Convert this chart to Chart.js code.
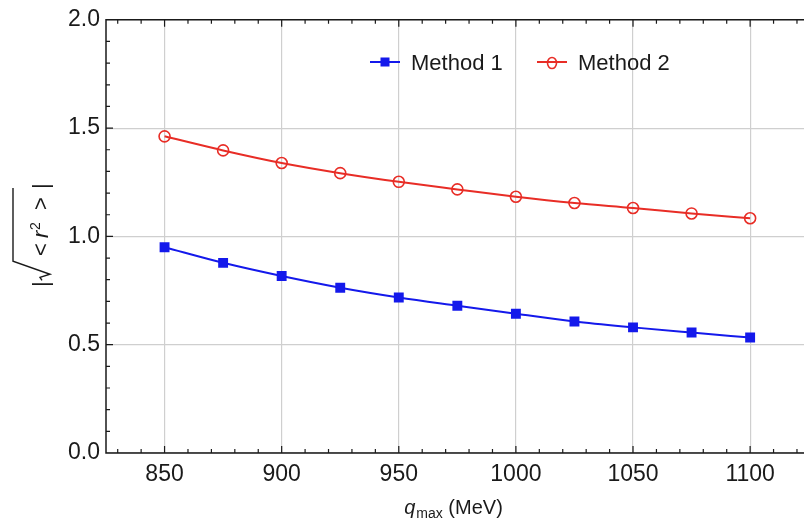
<!DOCTYPE html>
<html>
<head>
<meta charset="utf-8">
<script src="https://cdn.jsdelivr.net/npm/chart.js@4"></script>
<style>
  html, body { margin: 0; padding: 0; background: #fff; overflow: hidden; }
  #wrap { width: 804px; height: 528px; }
</style>
</head>
<body>
<div id="wrap"><canvas id="radius"></canvas></div>
<script>
(function() {
  // q_max values (MeV)
  const qmax = [850, 875, 900, 925, 950, 975, 1000, 1025, 1050, 1075, 1100];
  const method1 = [0.950, 0.878, 0.817, 0.763, 0.718, 0.680, 0.643, 0.607, 0.580, 0.556, 0.533];
  const method2 = [1.462, 1.397, 1.339, 1.292, 1.252, 1.217, 1.183, 1.154, 1.131, 1.106, 1.084];
  const seriesNames = ['Method 1', 'Method 2'];
  const xTicks = [850, 900, 950, 1000, 1050, 1100];
  const yTicks = [0.0, 0.5, 1.0, 1.5, 2.0];

  const FONT = "'Liberation Sans', Arial, Helvetica, sans-serif";
  const BLUE = 'rgb(20, 25, 235)';
  const RED = 'rgb(232, 45, 38)';
  const INK = '#1a1a1a';

  // frame, inward ticks, axis titles and legend
  const decor = {
    id: 'decor',
    afterDatasetsDraw(chart) {
      const ctx = chart.ctx;
      const a = chart.chartArea;
      const xs = chart.scales.x, ys = chart.scales.y;
      ctx.save();
      ctx.strokeStyle = INK;
      ctx.lineWidth = 1.5;
      ctx.beginPath();
      ctx.moveTo(a.right + 2, a.top);
      ctx.lineTo(a.left, a.top);
      ctx.lineTo(a.left, a.bottom);
      ctx.lineTo(a.right + 2, a.bottom);
      ctx.stroke();

      ctx.lineWidth = 1.2;
      ctx.beginPath();
      for (let v = 830; v <= 1120; v += 10) {
        const px = xs.getPixelForValue(v);
        const len = xTicks.includes(v) ? 7 : 4;
        ctx.moveTo(px, a.bottom); ctx.lineTo(px, a.bottom - len);
        ctx.moveTo(px, a.top); ctx.lineTo(px, a.top + len);
      }
      for (let i = 1; i < 20; i++) {
        const v = i / 10;
        const py = ys.getPixelForValue(v);
        const len = (i % 5 === 0) ? 7 : 4;
        ctx.moveTo(a.left, py); ctx.lineTo(a.left + len, py);
      }
      ctx.stroke();

      // x title: q_max (MeV)
      ctx.fillStyle = INK;
      ctx.textBaseline = 'alphabetic';
      ctx.textAlign = 'left';
      const big = 20, small = 14;
      ctx.font = 'italic ' + big + 'px ' + FONT;
      const wq = ctx.measureText('q').width;
      ctx.font = small + 'px ' + FONT;
      const wm = ctx.measureText('max').width;
      ctx.font = big + 'px ' + FONT;
      const wu = ctx.measureText(' (MeV)').width;
      let x = 453 - (wq + wm + wu) / 2;
      const by = 514;
      ctx.font = 'italic ' + big + 'px ' + FONT;
      ctx.fillText('q', x, by); x += wq + 1;
      ctx.font = small + 'px ' + FONT;
      ctx.fillText('max', x, by + 4); x += wm;
      ctx.font = big + 'px ' + FONT;
      ctx.fillText(' (MeV)', x, by);

      // y title: |sqrt(<r^2>)|
      ctx.save();
      ctx.translate(41, 235);
      ctx.rotate(-Math.PI / 2);
      const base = 7;
      ctx.font = '22px ' + FONT;
      let lx = -52;
      ctx.fillText('|', lx, base);
      lx += ctx.measureText('|').width + 1;
      ctx.lineWidth = 1.4;
      ctx.beginPath();
      ctx.moveTo(lx, base - 6);
      ctx.lineTo(lx + 3, base - 8);
      ctx.lineTo(lx + 6, base + 2);
      ctx.lineTo(lx + 19, base - 35);
      ctx.lineTo(47, base - 35);
      ctx.stroke();
      lx = -21;
      ctx.fillText('<', lx, base);
      ctx.font = 'italic 22px ' + FONT;
      ctx.fillText('r', -3, base);
      ctx.font = '14px ' + FONT;
      ctx.fillText('2', 5, base - 8);
      ctx.font = '22px ' + FONT;
      ctx.fillText('>', 25, base);
      ctx.fillText('|', 46, base);
      ctx.restore();

      // legend
      const lf = 22;
      ctx.font = lf + 'px ' + FONT;
      const ly = 62;
      const items = [
        { x0: 370, color: BLUE, text: seriesNames[0], marker: 'square' },
        { x0: 537, color: RED, text: seriesNames[1], marker: 'circle' }
      ];
      items.forEach(it => {
        ctx.strokeStyle = it.color;
        ctx.fillStyle = it.color;
        ctx.lineWidth = 2;
        ctx.beginPath();
        ctx.moveTo(it.x0, ly); ctx.lineTo(it.x0 + 30, ly);
        ctx.stroke();
        const cx = it.x0 + 15;
        if (it.marker === 'square') {
          ctx.fillRect(cx - 4.5, ly - 4.5, 9, 9);
        } else {
          ctx.lineWidth = 1.6;
          ctx.beginPath();
          ctx.ellipse(cx, ly + 1, 4.5, 5.5, 0, 0, Math.PI * 2);
          ctx.stroke();
        }
        ctx.fillStyle = INK;
        ctx.fillText(it.text, it.x0 + 41, ly + 0.36 * lf);
      });
      ctx.restore();
    }
  };

  new Chart(document.getElementById('radius'), {
    type: 'line',
    data: {
      datasets: [
        {
          label: seriesNames[0],
          data: qmax.map((q, i) => ({ x: q, y: method1[i] })),
          borderColor: BLUE,
          backgroundColor: BLUE,
          borderWidth: 2,
          pointStyle: 'rect',
          pointRadius: 7,
          pointBorderWidth: 0,
          cubicInterpolationMode: 'monotone'
        },
        {
          label: seriesNames[1],
          data: qmax.map((q, i) => ({ x: q, y: method2[i] })),
          borderColor: RED,
          backgroundColor: 'rgba(0,0,0,0)',
          borderWidth: 2,
          pointStyle: 'circle',
          pointRadius: 5.5,
          pointBorderWidth: 1.6,
          cubicInterpolationMode: 'monotone'
        }
      ]
    },
    options: {
      responsive: true,
      maintainAspectRatio: false,
      animation: false,
      layout: { autoPadding: false, padding: { top: 18, right: 0, left: 0, bottom: 0 } },
      plugins: {
        legend: { display: false },
        tooltip: { enabled: false }
      },
      scales: {
        x: {
          type: 'linear',
          min: 825,
          max: 1123,
          border: { display: false },
          grid: { color: '#cfcfcf', lineWidth: 1.2, drawTicks: false },
          afterBuildTicks: s => { s.ticks = xTicks.map(v => ({ value: v })); },
          ticks: {
            padding: 8,
            color: INK,
            font: { family: FONT, size: 23 },
            maxRotation: 0,
            autoSkip: false,
            callback: v => String(v)
          },
          afterFit: s => { s.height = 75; s.paddingLeft = 0; s.paddingRight = 0; }
        },
        y: {
          min: 0,
          max: 2,
          border: { display: false },
          grid: { color: '#cfcfcf', lineWidth: 1.2, drawTicks: false },
          afterBuildTicks: s => { s.ticks = yTicks.map(v => ({ value: v })); },
          ticks: {
            padding: 6,
            color: INK,
            font: { family: FONT, size: 23 },
            callback: v => v.toFixed(1)
          },
          afterFit: s => { s.width = 106; }
        }
      }
    },
    plugins: [decor]
  });
})();
</script>
</body>
</html>
